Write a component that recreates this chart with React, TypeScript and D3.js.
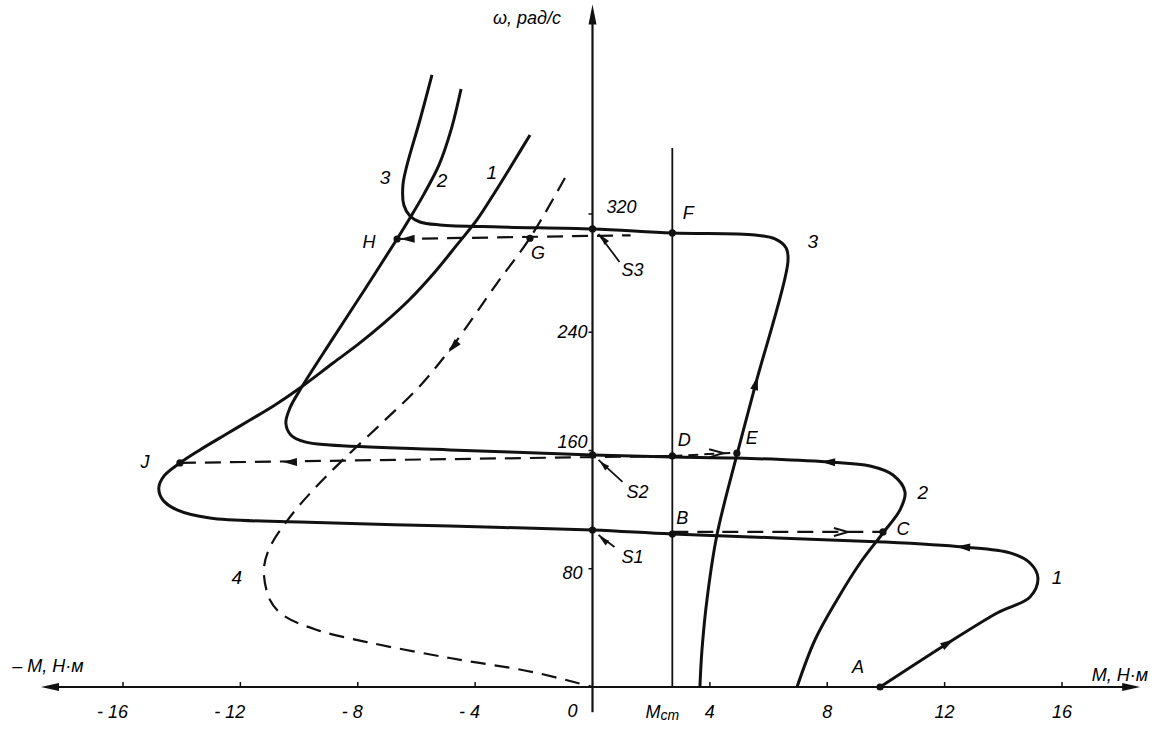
import React from "react";
import * as d3 from "d3";

type P = [number, number];

// ---- axis ticks ----
const xTickValues = [-16, -12, -8, -4, 4, 8, 12, 16];
const xTickLabels = ["- 16", "- 12", "- 8", "- 4", "4", "8", "12", "16"];
const yTickValues = [80, 160, 240, 320];
const yTickLabels = ["80", "160", "240", "320"];
const M_ST = 2.72;

// ---- characteristics (M, ω) ----
const curve1: P[] = [
  [-2.13, 373.5], [-2.71, 354.5], [-3.32, 334.9], [-3.94, 316.0], [-4.62, 299.1],
  [-5.37, 280.8], [-6.25, 261.8], [-7.1, 246.3], [-7.97, 232.1], [-8.84, 219.2],
  [-9.97, 202.3], [-10.82, 190.8], [-11.67, 180.6], [-12.53, 170.5], [-13.38, 160.4],
  [-14.06, 151.6], [-14.6, 142.8], [-14.78, 134.6], [-14.64, 126.5], [-14.16, 119.8],
  [-13.04, 114.3], [-9.97, 111.6], [-4.86, 108.9], [0, 106.2], [2.72, 103.5],
  [9.9, 98.1], [12.63, 94.7], [14.23, 90.7], [14.91, 83.9], [15.18, 73.7],
  [14.91, 60.9], [13.79, 50.1], [12.12, 29.8], [9.8, 0],
];
const curve2: P[] = [
  [-4.48, 404.6], [-4.82, 376.9], [-5.23, 353.2], [-5.74, 333.6], [-6.22, 317.3],
  [-6.66, 303.1], [-7.75, 269.3], [-8.88, 234.8], [-9.97, 200.9],
  [-10.31, 188.8], [-10.45, 178.6], [-10.28, 170.5], [-9.8, 165.8], [-8.95, 163.7],
  [-4.86, 160.4], [0, 157], [2.72, 155.6], [4.92, 154.9], [8.03, 152.2],
  [9.46, 149.5], [10.24, 143.4], [10.65, 131.9], [10.48, 119.8], [9.9, 104.2],
  [9.12, 83.9], [8.33, 58.9], [7.58, 31.8], [6.97, 0],
];
const curve3: P[] = [
  [-5.47, 414.1], [-5.88, 383.6], [-6.32, 353.2], [-6.46, 339.6], [-6.43, 326.1],
  [-6.22, 318.7], [-5.88, 314.6], [-5.2, 312.6], [-3.15, 311.2], [0, 309.9],
  [2.72, 307.2], [5.54, 305.8], [6.22, 303.1], [6.6, 297], [6.66, 287.6],
  [5.57, 205.7], [4.92, 157], [4.24, 102.8], [3.9, 58.9], [3.73, 25], [3.66, 0],
];
const curve4: P[] = [
  [-0.94, 344.4], [-2.13, 303.8], [-3.25, 273.3], [-4.69, 232.7], [-5.88, 203.7],
  [-7.14, 179.3], [-8.44, 154.9], [-9.46, 134.6], [-10.31, 115], [-10.99, 94.7],
  [-11.2, 79.2], [-10.99, 58.9], [-10.55, 48.7], [-9.39, 38.6], [-7.69, 30.4],
  [-4.86, 19.6], [-2.03, 10.1], [0, 0],
];

// ---- transitions (dashed) ----
const lineHG: P[] = [[-6.66, 303.1], [1.3, 305.6]];
const lineJD: P[] = [[-14.06, 151.6], [2.72, 156.3]];
const lineDE: P[] = [[2.72, 156.3], [4.92, 158.5]];
const lineBC: P[] = [[2.72, 104.9], [9.9, 104.9]];

// ---- marked points ----
const pointNames = ["A", "B", "C", "D", "E", "F", "G", "H", "J", "S1", "S2", "S3"];
const pointM = [9.8, 2.72, 9.9, 2.72, 4.92, 2.72, -2.13, -6.66, -14.06, 0, 0, 0];
const pointW = [0, 103.5, 104.9, 156.3, 158.2, 307.2, 303.6, 303.1, 151.6, 106.2, 157, 309.9];

// ---- curve numbers ----
const curveLabelText = ["3", "2", "1", "3", "2", "1", "4"];
const curveLabelM = [-7.07, -5.13, -3.43, 7.51, 11.26, 15.83, -12.12];
const curveLabelW = [344.4, 343, 347.8, 301.1, 131.9, 74.4, 74.4];

// ---- direction arrows: position and a point it heads to ----
const arrowFrom: P[] = [[12.63, 94.7], [12.12, 29.8], [8.03, 152.2], [5.57, 205.7], [-4.75, 230], [-10.31, 152.2], [-6.3, 303.2]];
const arrowTo: P[] = [[9.9, 98.1], [13.79, 50.1], [4.92, 154.9], [6.66, 287.6], [-5.88, 203.7], [-14.06, 151.6], [-6.66, 303.1]];
const chevronFrom: P[] = [[8.5, 104.9], [4.25, 158.2]];
const chevronTo: P[] = [[9.9, 104.9], [4.92, 158.5]];

const W = 1163;
const H = 750;

const x = d3.scaleLinear().domain([-16, 16]).range([123, 1062]);
const y = d3.scaleLinear().domain([0, 320]).range([687, 214]);

const FONT = "'Liberation Sans', 'DejaVu Sans', Arial, sans-serif";

const labelOffset: Record<string, [number, number]> = {
  A: [-22, -20], B: [10, -16], C: [20, -3], D: [12, -16], E: [15, -15],
  F: [16, -20], G: [8, 15], H: [-28, 3], J: [-35, -1],
  S1: [40, 27], S2: [45, 37], S3: [40, 41],
};
const leader: Record<string, [number, number]> = { S1: [22, 17], S2: [30, 27], S3: [27, 33] };

function tri(px: number, py: number, ang: number, len = 14, w = 9) {
  const c = Math.cos(ang), s = Math.sin(ang);
  const tx = px + (c * len) / 2, ty = py + (s * len) / 2;
  const bx = px - (c * len) / 2, by = py - (s * len) / 2;
  const nx = -s * (w / 2), ny = c * (w / 2);
  return `${tx},${ty} ${bx + nx},${by + ny} ${bx - nx},${by - ny}`;
}

export default function App() {
  const line = d3
    .line<P>()
    .x((d) => x(d[0]))
    .y((d) => y(d[1]))
    .curve(d3.curveCatmullRom.alpha(0.5));
  const straight = d3
    .line<P>()
    .x((d) => x(d[0]))
    .y((d) => y(d[1]));

  const x0 = x(0);
  const y0 = y(0);
  const axisLeft = x(-18.76);
  const axisRight = x(18.63);
  const axisTop = y(461);
  const axisBottom = y(-17);

  const textStyle = { fontFamily: FONT, fontStyle: "italic" as const, fontSize: 18 };

  return (
    <svg width={W} height={H} style={{ position: "absolute", left: 0, top: 0, background: "#fff" }}>
      <rect x={0} y={0} width={W} height={H} fill="#fff" />
      {/* axes */}
      <line x1={axisLeft + 6} y1={y0} x2={axisRight - 6} y2={y0} stroke="#111" strokeWidth={2.2} />
      <polygon points={tri(axisLeft + 8, y0, Math.PI, 18, 8)} fill="#111" />
      <polygon points={tri(axisRight - 8, y0, 0, 18, 8)} fill="#111" />
      <line x1={x0} y1={axisBottom} x2={x0} y2={axisTop + 8} stroke="#111" strokeWidth={2.2} />
      <polygon points={tri(x0, axisTop + 9, -Math.PI / 2, 20, 8)} fill="#111" />
      {/* M_ст line */}
      <line x1={x(M_ST)} y1={y(364.7)} x2={x(M_ST)} y2={y0} stroke="#111" strokeWidth={1.8} />

      {/* ticks */}
      {xTickValues.map((v) => (
        <line key={"xt" + v} x1={x(v)} y1={y0 - 5} x2={x(v)} y2={y0} stroke="#111" strokeWidth={1.5} />
      ))}
      {yTickValues.map((v) => (
        <line key={"yt" + v} x1={x0 - 4} y1={y(v)} x2={x0} y2={y(v)} stroke="#111" strokeWidth={1.5} />
      ))}
      {xTickValues.map((v, i) => (
        <text
          key={"xl" + v}
          x={v < 0 ? x(v) + 5 : x(v)}
          y={712}
          textAnchor={v < 0 ? "end" : "middle"}
          dominantBaseline="central"
          {...textStyle}
        >
          {xTickLabels[i]}
        </text>
      ))}
      <text x={x0 - 20} y={711} textAnchor="middle" dominantBaseline="central" {...textStyle}>0</text>
      <text x={x(M_ST) - 10} y={712} textAnchor="middle" dominantBaseline="central" {...textStyle}>
        М<tspan fontSize={14} dy={3}>ст</tspan>
      </text>
      {yTickValues.map((v, i) => (
        <text
          key={"yl" + v}
          x={v === 320 ? x0 + 29 : x0 - 20}
          y={v === 320 ? y(v) - 7 : y(v) - (v === 160 ? 9 : v === 80 ? -4 : 0)}
          textAnchor="middle"
          dominantBaseline="central"
          {...textStyle}
        >
          {yTickLabels[i]}
        </text>
      ))}
      {/* axis titles */}
      <text x={1120} y={675} textAnchor="middle" dominantBaseline="central" {...textStyle}>М, Н·м</text>
      <text x={48} y={666} textAnchor="middle" dominantBaseline="central" {...textStyle}>– М, Н·м</text>
      <text x={527} y={18} textAnchor="middle" dominantBaseline="central" {...textStyle}>ω, рад/с</text>

      {/* dashed curve 4 and transitions */}
      <path d={line(curve4) || ""} fill="none" stroke="#111" strokeWidth={2.2} strokeDasharray="15 9" />
      <path d={straight(lineHG) || ""} fill="none" stroke="#111" strokeWidth={2.2} strokeDasharray="16 9" />
      <path d={straight(lineJD) || ""} fill="none" stroke="#111" strokeWidth={2.2} strokeDasharray="16 9" />
      <path d={straight(lineDE) || ""} fill="none" stroke="#111" strokeWidth={2} strokeDasharray="10 6" />
      <path d={straight(lineBC) || ""} fill="none" stroke="#111" strokeWidth={2.2} strokeDasharray="16 9" />

      {/* solid characteristics */}
      {[curve1, curve2, curve3].map((c, i) => (
        <path key={"c" + i} d={line(c) || ""} fill="none" stroke="#111" strokeWidth={3} strokeLinejoin="round" />
      ))}

      {/* direction arrows */}
      {arrowFrom.map((f, i) => {
        const t = arrowTo[i];
        const ang = Math.atan2(y(t[1]) - y(f[1]), x(t[0]) - x(f[0]));
        return <polygon key={"ar" + i} points={tri(x(f[0]), y(f[1]), ang, 14, 8)} fill="#111" />;
      })}
      {chevronFrom.map((f, i) => {
        const t = chevronTo[i];
        const ang = Math.atan2(y(t[1]) - y(f[1]), x(t[0]) - x(f[0]));
        const px = x(f[0]), py = y(f[1]);
        const c = Math.cos(ang), s = Math.sin(ang);
        const tip = [px + c * 6, py + s * 6];
        const b = [px - c * 8, py - s * 8];
        return (
          <path
            key={"ch" + i}
            d={`M${b[0] - s * 4},${b[1] + c * 4} L${tip[0]},${tip[1]} L${b[0] + s * 4},${b[1] - c * 4}`}
            fill="none"
            stroke="#111"
            strokeWidth={2}
          />
        );
      })}

      {/* points */}
      {pointNames.map((n, i) => {
        const px = x(pointM[i]);
        const py = y(pointW[i]);
        const o = labelOffset[n];
        const l = leader[n];
        return (
          <g key={"p" + n}>
            <circle cx={px} cy={py} r={3.6} fill="#111" />
            {l && (
              <>
                <line x1={px + l[0]} y1={py + l[1]} x2={px + 6} y2={py + 5} stroke="#111" strokeWidth={1.8} />
                <polygon
                  points={tri(px + 11, py + 10, Math.atan2(-l[1], -l[0]), 10, 6)}
                  fill="#111"
                />
              </>
            )}
            <text x={px + o[0]} y={py + o[1]} textAnchor="middle" dominantBaseline="central" {...textStyle}>
              {n}
            </text>
          </g>
        );
      })}

      {/* curve numbers */}
      {curveLabelText.map((t, i) => (
        <text
          key={"cl" + i}
          x={x(curveLabelM[i])}
          y={y(curveLabelW[i])}
          textAnchor="middle"
          dominantBaseline="central"
          {...textStyle}
          fontSize={19}
        >
          {t}
        </text>
      ))}
    </svg>
  );
}
